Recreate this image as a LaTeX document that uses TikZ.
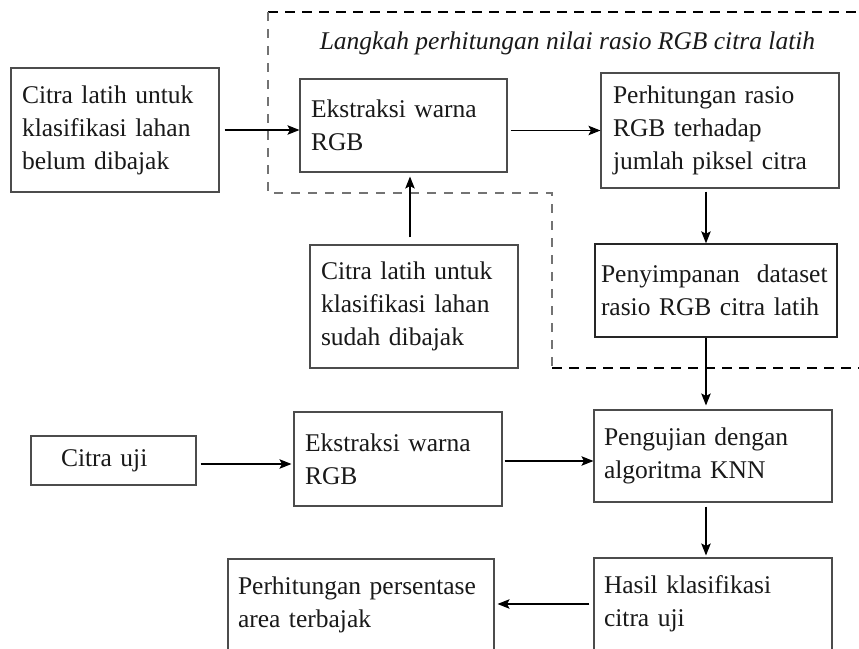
\documentclass[tikz,border=0pt]{standalone}
\usepackage{fontspec}
\setmainfont{Liberation Serif}
\usetikzlibrary{arrows.meta,calc}
\hyphenpenalty=10000
\begin{document}
\begin{tikzpicture}[x=1pt,y=-1pt,
  box/.style={draw=black!70, line width=1.1pt, rectangle, align=left, inner ysep=0pt,
    font=\fontsize{25.5}{33}\selectfont, text=black!90},
  arr/.style={line width=1.1pt, -{Stealth[length=12pt,width=9.5pt,inset=2.5pt]}},
  dashtop/.style={line width=1.2pt, dash pattern=on 10pt off 7pt},
  dashgray/.style={line width=1.1pt, draw=black!55, dash pattern=on 9pt off 8pt}]
\clip (0,0) rectangle (859,648);
\useasboundingbox (0,0) rectangle (859,648);
\fill[white] (0,0) rectangle (859,648);
% dashed region
\draw[dashtop] (268,12) -- (875,12);
\draw[dashtop] (552,368) -- (875,368);
\draw[dashgray] (268,12) -- (268,193) -- (552,193) -- (552,368);
\node[font=\fontsize{25.5}{33}\selectfont\itshape, text=black!90] (title) at (567.5,43) {Langkah perhitungan nilai rasio RGB citra latih};
% boxes
\node[box, text width=186pt, inner xsep=11pt, minimum height=124pt] (A) at (115,130) {Citra latih untuk\\klasifikasi lahan\\belum dibajak};
\node[box, text width=185pt, inner xsep=11pt, minimum height=93pt] (B) at (403.5,125.5) {Ekstraksi warna\\RGB};
\node[box, text width=214pt, inner xsep=12pt, minimum height=115pt] (C) at (720,130.5) {Perhitungan rasio\\RGB terhadap\\jumlah piksel citra};
\node[box, draw=black!85, line width=1.4pt, text width=230pt, inner xsep=6pt, minimum height=93pt] (D) at (716,290.5) {Penyimpanan\ \ dataset\\rasio RGB citra latih};
\node[box, text width=186pt, inner xsep=11pt, minimum height=123pt] (E) at (414,306.5) {Citra latih untuk\\klasifikasi lahan\\sudah dibajak};
\node[box, text width=218pt, inner xsep=10pt, minimum height=92pt] (F) at (713,456) {Pengujian dengan\\algoritma KNN};
\node[box, text width=105pt, inner xsep=30pt, minimum height=49pt] (G) at (113.5,460.5) {Citra uji};
\node[box, text width=186pt, inner xsep=11pt, minimum height=94pt] (H) at (398,459) {Ekstraksi warna\\RGB};
\node[box, text width=218pt, inner xsep=10pt, minimum height=92pt] (I) at (713,604) {Hasil klasifikasi\\citra uji};
\node[box, text width=246pt, inner xsep=10pt, minimum height=91pt] (J) at (361,604.5) {Perhitungan persentase\\area terbajak};
% helper x positions
\coordinate (xk) at (706,0);
\coordinate (xe) at (410,0);
% connectors
\draw[arr] ($(A.east)+(5,0)$) -- (A.east -| B.west);
\draw[arr] ($(B.east |- C.west)+(3,0)$) -- (C.west);
\draw[arr] ($(C.south -| xk)+(0,3)$) -- (D.north -| xk);
\draw[arr] ($(E.north -| xe)+(0,-7)$) -- ($(B.south -| xe)+(0,4)$);
\draw[arr] (D.south -| xk) -- ($(F.north -| xk)+(0,-4)$);
\draw[arr] ($(G.east)+(4,3.5)$) -- ($(G.east -| H.west)+(-2,3.5)$);
\draw[arr] ($(H.east)+(2,2)$) -- ($(H.east -| F.west)+(0,2)$);
\draw[arr] ($(F.south -| xk)+(0,4)$) -- ($(I.north -| xk)+(0,-2)$);
\draw[arr] ($(I.west)+(-4,0)$) -- ($(I.west -| J.east)+(3,0)$);
\end{tikzpicture}
\end{document}
